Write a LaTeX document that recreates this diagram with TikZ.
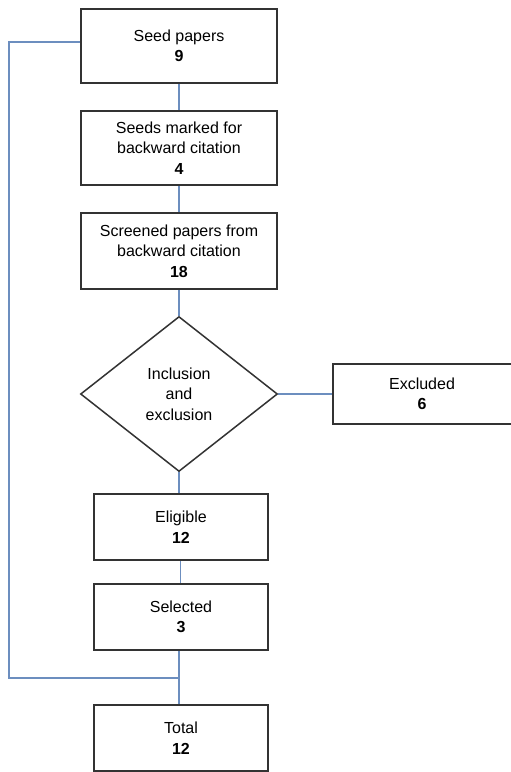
\documentclass[tikz,border=0pt]{standalone}
\usepackage{fontspec}
\setmainfont{Liberation Sans}
\usetikzlibrary{shapes.geometric,backgrounds}
\definecolor{linkblue}{RGB}{108,142,191}
\definecolor{edgegray}{RGB}{51,51,51}
\begin{document}
\begin{tikzpicture}[x=1pt,y=-1pt,
  every node/.style={font=\fontsize{16}{20.5}\selectfont, align=center, text=black},
  stepbox/.style={draw=edgegray, fill=white, line width=1.5pt, rectangle, inner sep=0pt},
  wide/.style={stepbox, minimum width=196pt, minimum height=74pt},
  narrow/.style={stepbox, minimum width=174pt, minimum height=66pt},
  link/.style={draw=linkblue, line width=1.5pt}]
\useasboundingbox (0,0) rectangle (511,772);

\node[wide] (seed) at (179,46) {Seed papers\\\textbf{9}};
\node[wide] (marked) at (179,148) {Seeds marked for\\backward citation\\\textbf{4}};
\node[wide, minimum height=76pt] (screened) at (179,251) {Screened papers from\\backward citation\\\textbf{18}};
\node[draw=edgegray, fill=white, line width=1.5pt, diamond, inner sep=0pt,
      minimum width=197pt, minimum height=155pt] (decide) at (179,394)
      {Inclusion\\and\\exclusion};
% the right side of this box runs past the page edge
\node[stepbox, minimum width=182pt, minimum height=60pt] (excluded) at (424,394) {\hspace*{-4pt}Excluded\\\hspace*{-4pt}\textbf{6}};
\node[narrow] (eligible) at (181,527) {Eligible\\\textbf{12}};
\node[narrow] (selected) at (181,617) {Selected\\\textbf{3}};
\node[narrow] (total) at (181,738) {Total\\\textbf{12}};

\coordinate (corner) at (9,678);
\coordinate (join) at (179,678);

\begin{pgfonlayer}{background}
\fill[white] (0,0) rectangle (511,772);
\draw[link] (seed.south -| 179,0) -- (marked.north -| 179,0);
\draw[link] (marked.south -| 179,0) -- (screened.north -| 179,0);
\draw[link] (screened.south -| 179,0) -- (decide.north);
\draw[link] (decide.east) -- (excluded.west);
\draw[link] (decide.south) -- (eligible.north -| decide.south);
\draw[link] (eligible.south -| 180.5,0) -- (selected.north -| 180.5,0);
\draw[link] (selected.south -| join) -- (total.north -| join);
\draw[link] ([yshift=4pt]seed.west) -| (corner) -- (join);
\end{pgfonlayer}
\end{tikzpicture}
\end{document}
